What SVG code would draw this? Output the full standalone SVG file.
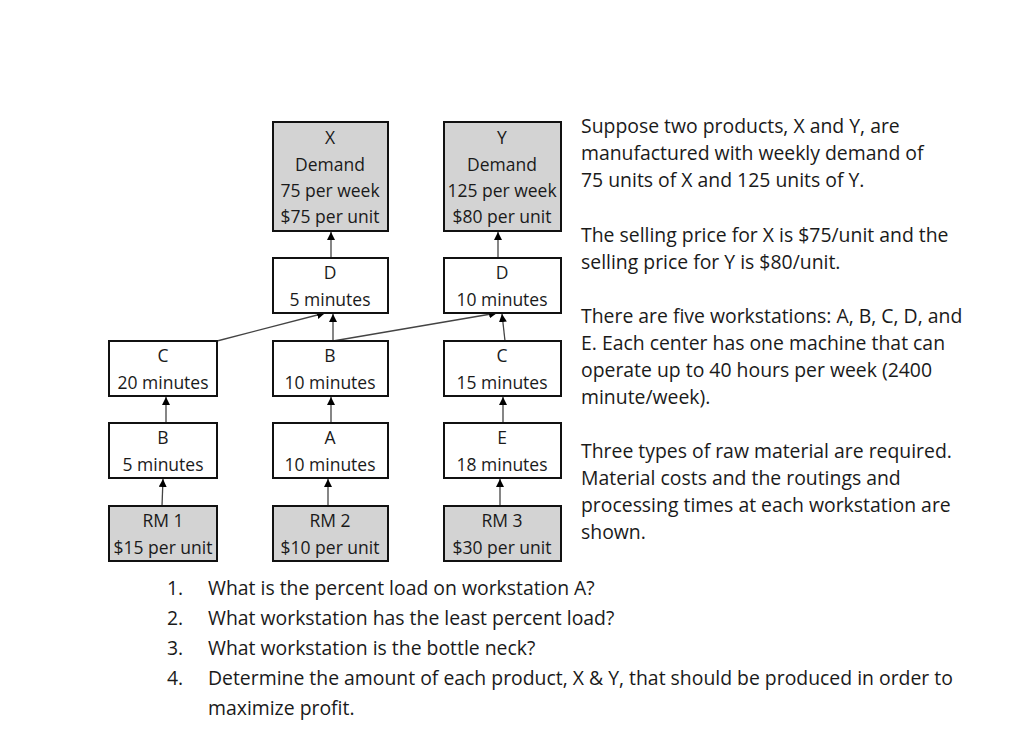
<svg xmlns="http://www.w3.org/2000/svg" width="1024" height="753" viewBox="0 0 1024 753">
<style>
text{font-family:"Open Sans","Liberation Sans",sans-serif;fill:#1a1a1a}
.n{font-size:17.5px;text-anchor:middle}
.p{font-size:19.4px}
.w{fill:#fff;stroke:#111;stroke-width:2}
.g{fill:#d3d3d3;stroke:#111;stroke-width:2}
.c{stroke:#444;stroke-width:1.3;fill:none;marker-end:url(#a)}
</style>
<defs><marker id="a" viewBox="0 0 10 10" refX="10" refY="5" markerWidth="8" markerHeight="8" markerUnits="userSpaceOnUse" orient="auto"><path d="M0,0L10,5L0,10z" fill="#000"/></marker></defs>
<rect width="1024" height="753" fill="#fff"/>
<g id="connectors">
<path class="c" d="M331,258L331,232"/>
<path class="c" d="M498,258L498,232"/>
<path class="c" d="M217,341L325,313"/>
<path class="c" d="M333,341L333,314"/>
<path class="c" d="M333,341L497,313"/>
<path class="c" d="M505,341L502,314"/>
<path class="c" d="M166,423L166,397"/>
<path class="c" d="M162,506L163,479"/>
<path class="c" d="M331,423L331,397"/>
<path class="c" d="M328,506L328,479"/>
<path class="c" d="M503,423L503,397"/>
<path class="c" d="M500,506L500,479"/>
</g>
<g id="X"><rect class="g" x="273" y="122" width="115" height="109"/><text class="n" x="330" y="144">X</text><text class="n" x="330" y="171">Demand</text><text class="n" x="330" y="197">75 per week</text><text class="n" x="330" y="223">$75 per unit</text></g>
<g id="Y"><rect class="g" x="444" y="122" width="117" height="109"/><text class="n" x="502" y="144">Y</text><text class="n" x="502" y="171">Demand</text><text class="n" x="502" y="197">125 per week</text><text class="n" x="502" y="223">$80 per unit</text></g>
<g id="D1"><rect class="w" x="273" y="258" width="115" height="55"/><text class="n" x="330" y="279">D</text><text class="n" x="330" y="306">5 minutes</text></g>
<g id="D2"><rect class="w" x="444" y="258" width="117" height="55"/><text class="n" x="502" y="279">D</text><text class="n" x="502" y="306">10 minutes</text></g>
<g id="C1"><rect class="w" x="109" y="341" width="108" height="55"/><text class="n" x="163" y="362">C</text><text class="n" x="163" y="389">20 minutes</text></g>
<g id="B2"><rect class="w" x="273" y="341" width="115" height="55"/><text class="n" x="330" y="362">B</text><text class="n" x="330" y="389">10 minutes</text></g>
<g id="C3"><rect class="w" x="444" y="341" width="117" height="55"/><text class="n" x="502" y="362">C</text><text class="n" x="502" y="389">15 minutes</text></g>
<g id="B1"><rect class="w" x="109" y="423" width="108" height="55"/><text class="n" x="163" y="444">B</text><text class="n" x="163" y="471">5 minutes</text></g>
<g id="A2"><rect class="w" x="273" y="423" width="115" height="55"/><text class="n" x="330" y="444">A</text><text class="n" x="330" y="471">10 minutes</text></g>
<g id="E3"><rect class="w" x="444" y="423" width="117" height="55"/><text class="n" x="502" y="444">E</text><text class="n" x="502" y="471">18 minutes</text></g>
<g id="RM1"><rect class="g" x="109" y="506" width="108" height="55"/><text class="n" x="163" y="527">RM 1</text><text class="n" x="163" y="554">$15 per unit</text></g>
<g id="RM2"><rect class="g" x="273" y="506" width="115" height="55"/><text class="n" x="330" y="527">RM 2</text><text class="n" x="330" y="554">$10 per unit</text></g>
<g id="RM3"><rect class="g" x="444" y="506" width="117" height="55"/><text class="n" x="502" y="527">RM 3</text><text class="n" x="502" y="554">$30 per unit</text></g>
<g class="p">
<text class="p" x="581" y="133">Suppose two products, X and Y, are</text>
<text class="p" x="581" y="160">manufactured with weekly demand of</text>
<text class="p" x="581" y="187">75 units of X and 125 units of Y.</text>
<text class="p" x="581" y="242">The selling price for X is $75/unit and the</text>
<text class="p" x="581" y="269">selling price for Y is $80/unit.</text>
<text class="p" x="581" y="323">There are five workstations: A, B, C, D, and</text>
<text class="p" x="581" y="350">E. Each center has one machine that can</text>
<text class="p" x="581" y="377">operate up to 40 hours per week (2400</text>
<text class="p" x="581" y="404">minute/week).</text>
<text class="p" x="581" y="458">Three types of raw material are required.</text>
<text class="p" x="581" y="485">Material costs and the routings and</text>
<text class="p" x="581" y="512">processing times at each workstation are</text>
<text class="p" x="581" y="539">shown.</text>
<text class="p" x="167" y="595">1.</text><text class="p" x="208" y="595">What is the percent load on workstation A?</text>
<text class="p" x="167" y="625">2.</text><text class="p" x="208" y="625">What workstation has the least percent load?</text>
<text class="p" x="167" y="655">3.</text><text class="p" x="208" y="655">What workstation is the bottle neck?</text>
<text class="p" x="167" y="685">4.</text><text class="p" x="208" y="685">Determine the amount of each product, X &amp; Y, that should be produced in order to</text>
<text class="p" x="208" y="715">maximize profit.</text>
</g>
</svg>
